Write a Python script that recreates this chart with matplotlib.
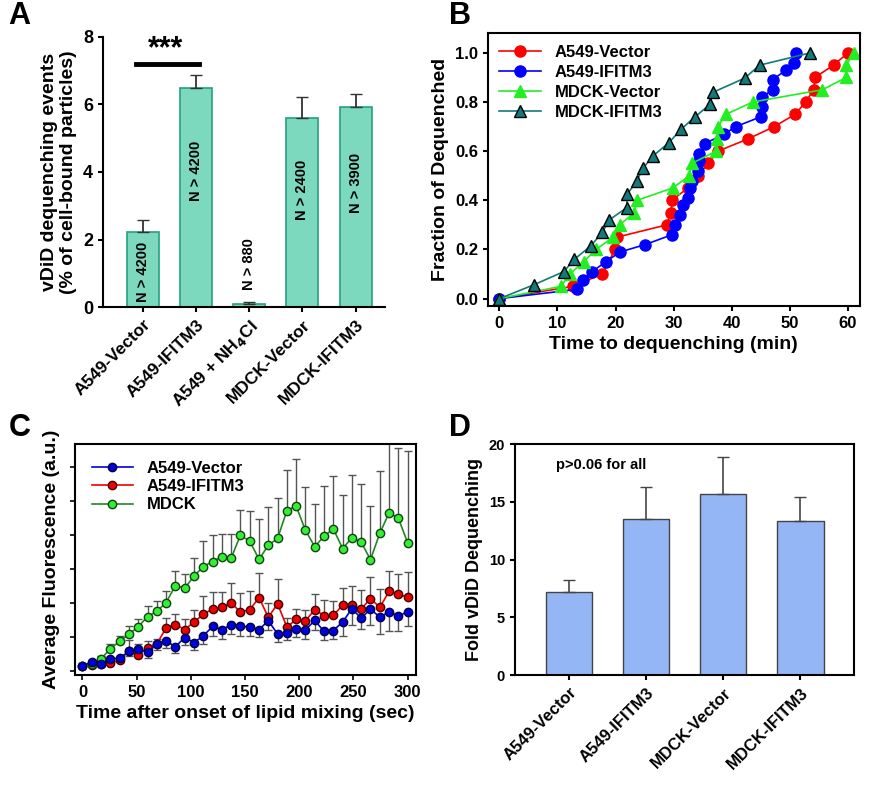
import matplotlib
matplotlib.use("Agg")
import matplotlib.pyplot as plt
import numpy as np

plt.rcParams['font.family'] = ['Liberation Sans', 'DejaVu Sans']
plt.rcParams['font.weight'] = 'bold'

# Panel A
a_cats = ["A549-Vector", "A549-IFITM3", "A549 + NH$_4$Cl", "MDCK-Vector", "MDCK-IFITM3"]
a_vals = [2.22, 6.5, 0.08, 5.6, 5.92]
a_errs = [0.37, 0.38, 0.06, 0.63, 0.4]
a_ntext = ["N > 4200", "N > 4200", "N > 880", "N > 2400", "N > 3900"]

# Panel B
b_av_t = [0, 12.6, 17.7, 19.9, 20.2, 28.8, 29.6, 29.7, 32.4, 34.2, 35.9, 37.6, 42.8, 47.3, 50.9, 52.7, 54.1, 54.3, 57.5, 60.0]
b_av_f = [0, 0.05, 0.10, 0.20, 0.25, 0.30, 0.35, 0.40, 0.45, 0.50, 0.55, 0.60, 0.65, 0.70, 0.75, 0.80, 0.85, 0.90, 0.95, 1.0]
b_ai_t = [0, 13.4, 14.4, 16.0, 18.3, 20.8, 25.1, 29.7, 30.2, 31.0, 31.6, 32.5, 32.8, 33.2, 34.1, 34.3, 34.4, 35.3, 38.7, 40.7, 45.0, 45.2, 45.2, 47.0, 47.0, 49.3, 50.7, 51.0]
b_ai_f = [0, 0.038, 0.077, 0.11, 0.15, 0.19, 0.22, 0.26, 0.30, 0.34, 0.38, 0.41, 0.45, 0.48, 0.52, 0.56, 0.59, 0.63, 0.67, 0.70, 0.74, 0.78, 0.82, 0.85, 0.89, 0.93, 0.96, 1.0]
b_mv_t = [0, 10.6, 12.1, 14.5, 16.6, 19.6, 20.7, 23.2, 23.7, 29.8, 32.7, 33.1, 37.3, 37.4, 37.6, 39.0, 43.6, 55.6, 59.7, 59.7, 61.0]
b_mv_f = [0, 0.05, 0.10, 0.15, 0.20, 0.25, 0.30, 0.35, 0.40, 0.45, 0.50, 0.55, 0.60, 0.65, 0.70, 0.75, 0.80, 0.85, 0.90, 0.95, 1.0]
b_mi_t = [0, 5.9, 11.1, 12.9, 15.8, 17.7, 18.9, 21.9, 22.0, 23.6, 24.7, 26.4, 29.2, 31.3, 33.7, 36.2, 36.8, 42.2, 44.8, 53.5]
b_mi_f = [0, 0.056, 0.11, 0.16, 0.216, 0.27, 0.32, 0.37, 0.425, 0.477, 0.53, 0.58, 0.635, 0.69, 0.74, 0.79, 0.84, 0.897, 0.95, 1.0]

# Panel C (arbitrary units)
c_t = [0, 8.6, 17.1, 25.7, 34.3, 42.9, 51.4, 60, 68.6, 77.1, 85.7, 94.3, 102.9, 111.4, 120, 128.6, 137.1, 145.7,
       154.3, 162.9, 171.4, 180, 188.6, 197.1, 205.7, 214.3, 222.9, 231.4, 240, 248.6, 257.1, 265.7, 274.3, 282.9, 291.4, 300]
c_mdck = [0, 5, 22, 53, 78, 99, 123, 155, 172, 199, 253, 245, 283, 313, 329, 344, 339, 412, 393, 336, 380, 402, 490, 504,
          427, 376, 409, 432, 370, 404, 390, 335, 418, 483, 466, 388]
c_mdck_up = [0, 10, 32, 70, 95, 125, 147, 187, 205, 236, 300, 288, 339, 393, 412, 415, 415, 492, 489, 463, 500, 530, 619, 652,
             564, 512, 568, 599, 539, 601, 574, 505, 614, 735, 688, 677]
c_ai = [0, 3, 5, 9, 17, 47, 35, 57, 69, 119, 130, 114, 138, 162, 179, 184, 199, 169, 177, 215, 153, 195, 122, 146,
        142, 177, 158, 159, 191, 192, 179, 212, 184, 235, 225, 217]
c_ai_up = [0, 6, 10, 16, 30, 82, 68, 78, 85, 150, 162, 148, 177, 219, 233, 234, 262, 230, 237, 292, 197, 275, 150, 180,
           177, 226, 207, 204, 245, 253, 238, 280, 242, 299, 289, 295]
c_av = [0, 12, 5, 20, 25, 45, 53, 42, 70, 78, 60, 89, 73, 94, 124, 114, 129, 124, 123, 114, 142, 100, 104, 117,
        113, 143, 108, 111, 138, 180, 150, 179, 153, 170, 156, 171]
c_av_lo = [0, 6, 0, 10, 12, 30, 35, 25, 50, 55, 40, 65, 50, 70, 95, 85, 100, 95, 95, 90, 112, 75, 80, 90,
           85, 112, 80, 85, 95, 130, 115, 130, 100, 110, 110, 125]

# Panel D
d_cats = ["A549-Vector", "A549-IFITM3", "MDCK-Vector", "MDCK-IFITM3"]
d_vals = [7.2, 13.5, 15.7, 13.35]
d_errs = [1.0, 2.75, 3.2, 2.1]

fig = plt.figure(figsize=(8.71, 8.0), dpi=100)

# ---- A
axA = fig.add_axes([0.118, 0.616, 0.324, 0.338])
x = np.arange(len(a_cats))
axA.bar(x, a_vals, width=0.6, color='#7dd9bd', edgecolor='#25a083', linewidth=1.2, zorder=2)
axA.errorbar(x, a_vals, yerr=[np.zeros(len(a_errs)), a_errs], fmt='none', ecolor='#333333', elinewidth=1.3, capsize=4, zorder=3)
for i, (v, t) in enumerate(zip(a_vals, a_ntext)):
    if v > 3:
        axA.text(i, v * 0.62, t, rotation=90, ha='center', va='center', fontsize=10.5, fontweight='bold')
    elif v > 1:
        axA.text(i, 0.15, t, rotation=90, ha='center', va='bottom', fontsize=10.5, fontweight='bold')
    else:
        axA.text(i, 0.5, t, rotation=90, ha='center', va='bottom', fontsize=10.5, fontweight='bold')
axA.plot([-0.12, 1.05], [7.2, 7.2], color='black', lw=3.5)
axA.text(0.43, 7.2, '***', ha='center', va='bottom', fontsize=22, fontweight='bold')
axA.set_xlim(-0.75, 4.55)
axA.set_ylim(0, 8)
axA.set_yticks([0, 2, 4, 6, 8])
axA.set_xticks(x)
axA.tick_params(labelsize=13, width=1.5, direction='out')
axA.set_xticklabels(a_cats, rotation=45, ha='right', rotation_mode='anchor', fontsize=12.5, fontweight='bold')
axA.spines['top'].set_visible(False)
axA.spines['right'].set_visible(False)
axA.spines['left'].set_linewidth(1.5)
axA.spines['bottom'].set_linewidth(1.5)
axA.set_ylabel('vDiD dequenching events\n(% of cell-bound particles)', fontsize=14, fontweight='bold')
fig.text(0.01, 0.97, 'A', fontsize=22, fontweight='bold')

# ---- B
axB = fig.add_axes([0.560, 0.6175, 0.427, 0.341])
axB.plot(b_av_t, b_av_f, '-o', color='#ff0000', mfc='#ff0000', mec='#ff0000', ms=8, lw=1.2, label='A549-Vector')
axB.plot(b_ai_t, b_ai_f, '-o', color='#0000ff', mfc='#0000ff', mec='#0000ff', ms=8, lw=1.2, label='A549-IFITM3')
axB.plot(b_mv_t, b_mv_f, '-^', color='#22ee22', mfc='#22ee22', mec='#22ee22', ms=8, lw=1.2, label='MDCK-Vector')
axB.plot(b_mi_t, b_mi_f, '-^', color='#117a7a', mfc='#117a7a', mec='black', ms=8, lw=1.2, label='MDCK-IFITM3')
axB.set_xlim(-2, 62)
axB.set_ylim(-0.03, 1.08)
axB.set_xticks([0, 10, 20, 30, 40, 50, 60])
axB.set_yticks([0, 0.2, 0.4, 0.6, 0.8, 1.0])
axB.set_yticklabels(['0.0', '0.2', '0.4', '0.6', '0.8', '1.0'])
for s in axB.spines.values():
    s.set_linewidth(1.5)
axB.tick_params(labelsize=12, width=1.5)
axB.set_xlabel('Time to dequenching (min)', fontsize=14, fontweight='bold')
axB.set_ylabel('Fraction of Dequenched', fontsize=14, fontweight='bold')
axB.legend(loc='upper left', frameon=False, fontsize=12, handlelength=2.5, borderaxespad=0.3, labelspacing=0.3)
fig.text(0.515, 0.97, 'B', fontsize=22, fontweight='bold')

# ---- C
axC = fig.add_axes([0.086, 0.156, 0.392, 0.289])
axC.errorbar(c_t, c_mdck, yerr=[np.zeros(len(c_mdck)), np.array(c_mdck_up) - np.array(c_mdck)], fmt='none',
             ecolor='#555555', elinewidth=1, capsize=3, zorder=1)
axC.errorbar(c_t, c_ai, yerr=[np.zeros(len(c_ai)), np.array(c_ai_up) - np.array(c_ai)], fmt='none',
             ecolor='#555555', elinewidth=1, capsize=3, zorder=1)
axC.errorbar(c_t, c_av, yerr=[np.array(c_av) - np.array(c_av_lo), np.zeros(len(c_av))], fmt='none',
             ecolor='#555555', elinewidth=1, capsize=3, zorder=1)
axC.plot(c_t, c_av, '-o', color='#0000dd', mfc='#0000dd', mec='#000044', ms=6, lw=1.2, label='A549-Vector', zorder=3)
axC.plot(c_t, c_ai, '-o', color='#ee0000', mfc='#ee0000', mec='#440000', ms=6, lw=1.2, label='A549-IFITM3', zorder=2)
axC.plot(c_t, c_mdck, '-o', color='#228822', mfc='#33ee33', mec='#114411', ms=6, lw=1.2, label='MDCK', zorder=2)
axC.set_xlim(-7, 308)
axC.set_ylim(-30, 700)
axC.set_xticks([0, 50, 100, 150, 200, 250, 300])
axC.set_yticks([-17.5 + 107.5 * k for k in range(7)])
axC.set_yticklabels([])
for s in axC.spines.values():
    s.set_linewidth(1.5)
axC.tick_params(labelsize=12, width=1.2)
axC.set_xlabel('Time after onset of lipid mixing (sec)', fontsize=14, fontweight='bold')
axC.set_ylabel('Average Fluorescence (a.u.)', fontsize=14, fontweight='bold')
axC.legend(loc='upper left', frameon=False, fontsize=12, handlelength=2.5, borderaxespad=0.6, labelspacing=0.2)
fig.text(0.01, 0.455, 'C', fontsize=22, fontweight='bold')

# ---- D
axD = fig.add_axes([0.591, 0.156, 0.39, 0.289])
xd = np.arange(len(d_cats))
axD.bar(xd, d_vals, width=0.6, color='#94b6f5', edgecolor='#444444', linewidth=1.0, zorder=2)
axD.errorbar(xd, d_vals, yerr=[np.zeros(len(d_errs)), d_errs], fmt='none', ecolor='#444444', elinewidth=1.2, capsize=4, zorder=3)
axD.text(0.12, 0.89, 'p>0.06 for all', transform=axD.transAxes, fontsize=10.5, fontweight='bold')
axD.set_xlim(-0.7, 3.7)
axD.set_ylim(0, 20)
axD.set_yticks([0, 5, 10, 15, 20])
axD.set_xticks(xd)
axD.tick_params(labelsize=10.5, width=1.5)
axD.set_xticklabels(d_cats, rotation=45, ha='right', rotation_mode='anchor', fontsize=12, fontweight='bold')
for s in axD.spines.values():
    s.set_linewidth(1.5)
axD.set_ylabel('Fold vDiD Dequenching', fontsize=13, fontweight='bold')
fig.text(0.515, 0.455, 'D', fontsize=22, fontweight='bold')

fig.savefig('out.png', dpi=100)
